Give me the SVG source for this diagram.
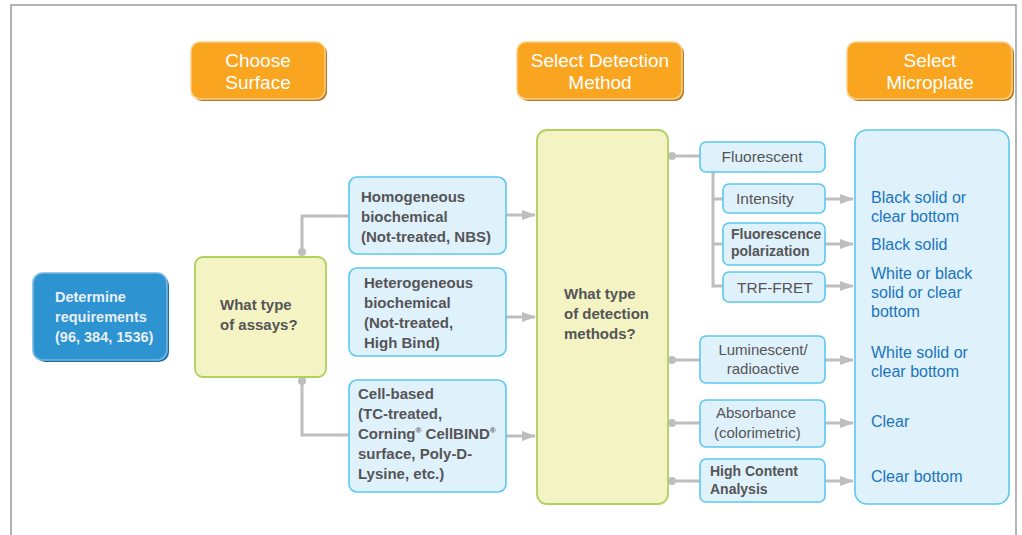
<svg xmlns="http://www.w3.org/2000/svg" width="1022" height="535" viewBox="0 0 1022 535">
<defs>
<style>
.frame{fill:none;stroke:#9a9a9a;stroke-width:1.5}
.hshadow{fill:#B5791F}
.hbox{fill:#F9A51F;stroke:#FCCF8A;stroke-width:1.5}
.htxt{font-family:"Liberation Sans",Arial,sans-serif;font-size:19px;fill:#ffffff;text-anchor:middle}
.bbox{fill:#DFF1FB;stroke:#5BC8F0;stroke-width:1.6}
.gbox{fill:#F3F3C3;stroke:#AED25B;stroke-width:1.8}
.dbox{fill:#2D93D1;stroke:#78B9E4;stroke-width:1.6}
.dshadow{fill:#1F6C9E}
.t{font-family:"Liberation Sans",Arial,sans-serif;font-size:15px;fill:#555557}
.b{font-weight:bold}
.w{fill:#E8EFF6;font-weight:bold;font-size:14.5px}
.c{text-anchor:middle}
.blue{font-family:"Liberation Sans",Arial,sans-serif;font-size:16px;fill:#1B75BB}
.con{fill:none;stroke:#BEBEBE;stroke-width:3}
.dot{fill:#BEBEBE}
.sup{font-size:8px}
</style>
<marker id="ah" markerWidth="14" markerHeight="10" refX="13" refY="5" orient="auto" markerUnits="userSpaceOnUse">
<path d="M0,0 L14,5 L0,10 Z" fill="#BEBEBE"/>
</marker>
</defs>
<rect width="1022" height="535" fill="#ffffff"/>
<path class="frame" d="M11,540 L11,5 L1016,5 L1016,540"/>

<g id="hdr-surface">
<rect class="hshadow" x="193" y="44" width="134" height="57" rx="9"/>
<rect class="hbox" x="191" y="42" width="134" height="57" rx="9"/>
<text class="htxt" x="258" y="67">Choose</text>
<text class="htxt" x="258" y="89">Surface</text>
</g>
<g id="hdr-detection">
<rect class="hshadow" x="519" y="44" width="165" height="57" rx="9"/>
<rect class="hbox" x="517" y="42" width="165" height="57" rx="9"/>
<text class="htxt" x="600" y="67">Select Detection</text>
<text class="htxt" x="600" y="89">Method</text>
</g>
<g id="hdr-microplate">
<rect class="hshadow" x="849" y="44" width="165" height="57" rx="9"/>
<rect class="hbox" x="847" y="42" width="165" height="57" rx="9"/>
<text class="htxt" x="930" y="67">Select</text>
<text class="htxt" x="930" y="89">Microplate</text>
</g>

<g id="connectors">
<path class="con" d="M302,252 L302,216 L349,216"/>
<circle class="dot" cx="302" cy="252" r="4"/>
<path class="con" d="M302,381 L302,435 L349,435"/>
<circle class="dot" cx="302" cy="381" r="4"/>
<path class="con" d="M506,215 L535,215" marker-end="url(#ah)"/>
<path class="con" d="M506,317 L535,317" marker-end="url(#ah)"/>
<path class="con" d="M506,436 L535,436" marker-end="url(#ah)"/>
<path class="con" d="M672,156 L700,156"/>
<circle class="dot" cx="672" cy="156" r="4"/>
<path class="con" d="M713,172 L713,286 L723,286 M713,199 L723,199 M713,244 L723,244"/>
<path class="con" d="M672,360 L700,360"/>
<circle class="dot" cx="672" cy="360" r="4"/>
<path class="con" d="M672,423 L700,423"/>
<circle class="dot" cx="672" cy="423" r="4"/>
<path class="con" d="M672,481 L700,481"/>
<circle class="dot" cx="672" cy="481" r="4"/>
<path class="con" d="M825,199 L853,199" marker-end="url(#ah)"/>
<path class="con" d="M825,244 L853,244" marker-end="url(#ah)"/>
<path class="con" d="M825,286 L853,286" marker-end="url(#ah)"/>
<path class="con" d="M825,360 L853,360" marker-end="url(#ah)"/>
<path class="con" d="M825,423 L853,423" marker-end="url(#ah)"/>
<path class="con" d="M825,481 L853,481" marker-end="url(#ah)"/>
</g>

<g id="determine">
<rect class="dshadow" x="35" y="275" width="134" height="87" rx="10"/>
<rect class="dbox" x="33" y="273" width="134" height="87" rx="10"/>
<text class="t w" x="55" y="302">Determine</text>
<text class="t w" x="55" y="322">requirements</text>
<text class="t w" x="55" y="342">(96, 384, 1536)</text>
</g>

<g id="assays">
<rect class="gbox" x="195" y="257" width="131" height="120" rx="8"/>
<text class="t b" x="220" y="310">What type</text>
<text class="t b" x="220" y="330">of assays?</text>
</g>

<g id="homogeneous">
<rect class="bbox" x="349" y="177" width="157" height="77" rx="8"/>
<text class="t b" x="361" y="202">Homogeneous</text>
<text class="t b" x="361" y="222">biochemical</text>
<text class="t b" x="361" y="242">(Not-treated, NBS)</text>
</g>

<g id="heterogeneous">
<rect class="bbox" x="349" y="268" width="157" height="88" rx="8"/>
<text class="t b" x="364" y="288">Heterogeneous</text>
<text class="t b" x="364" y="308">biochemical</text>
<text class="t b" x="364" y="328">(Not-treated,</text>
<text class="t b" x="364" y="348">High Bind)</text>
</g>

<g id="cellbased">
<rect class="bbox" x="349" y="380" width="157" height="112" rx="8"/>
<text class="t b" x="358" y="399">Cell-based</text>
<text class="t b" x="358" y="419">(TC-treated,</text>
<text class="t b" x="358" y="439">Corning<tspan class="sup" dy="-6">®</tspan><tspan dy="6"> CellBIND</tspan><tspan class="sup" dy="-6">®</tspan></text>
<text class="t b" x="358" y="459">surface, Poly-D-</text>
<text class="t b" x="358" y="479">Lysine, etc.)</text>
</g>

<g id="detection">
<rect class="gbox" x="537" y="130" width="131" height="374" rx="10"/>
<text class="t b" x="564" y="299">What type</text>
<text class="t b" x="564" y="319">of detection</text>
<text class="t b" x="564" y="339">methods?</text>
</g>

<g id="fluorescent">
<rect class="bbox" x="700" y="142" width="125" height="30" rx="6"/>
<text class="t c" x="762" y="162" style="font-size:15.5px">Fluorescent</text>
</g>
<g id="intensity">
<rect class="bbox" x="723" y="184" width="102" height="29" rx="6"/>
<text class="t" x="736" y="204" style="font-size:15.5px">Intensity</text>
</g>
<g id="polarization">
<rect class="bbox" x="723" y="223" width="102" height="42" rx="6"/>
<text class="t b" x="731" y="239" style="font-size:14px">Fluorescence</text>
<text class="t b" x="731" y="256" style="font-size:14px">polarization</text>
</g>
<g id="trffret">
<rect class="bbox" x="723" y="272" width="102" height="30" rx="6"/>
<text class="t" x="737" y="293" style="font-size:15.5px">TRF-FRET</text>
</g>
<g id="luminescent">
<rect class="bbox" x="700" y="336" width="125" height="47" rx="6"/>
<text class="t c" x="763" y="355">Luminescent/</text>
<text class="t c" x="763" y="374">radioactive</text>
</g>
<g id="absorbance">
<rect class="bbox" x="700" y="400" width="125" height="47" rx="6"/>
<text class="t" x="716" y="418">Absorbance</text>
<text class="t" x="714" y="438">(colorimetric)</text>
</g>
<g id="hca">
<rect class="bbox" x="700" y="459" width="125" height="43" rx="6"/>
<text class="t b" x="710" y="476" style="font-size:14px">High Content</text>
<text class="t b" x="710" y="494" style="font-size:14px">Analysis</text>
</g>

<g id="microplate">
<rect class="bbox" x="855" y="130" width="154" height="374" rx="12"/>
<text class="blue" x="871" y="203">Black solid or</text>
<text class="blue" x="871" y="222">clear bottom</text>
<text class="blue" x="871" y="250">Black solid</text>
<text class="blue" x="871" y="279">White or black</text>
<text class="blue" x="871" y="298">solid or clear</text>
<text class="blue" x="871" y="317">bottom</text>
<text class="blue" x="871" y="358">White solid or</text>
<text class="blue" x="871" y="377">clear bottom</text>
<text class="blue" x="871" y="427">Clear</text>
<text class="blue" x="871" y="482">Clear bottom</text>
</g>
</svg>
